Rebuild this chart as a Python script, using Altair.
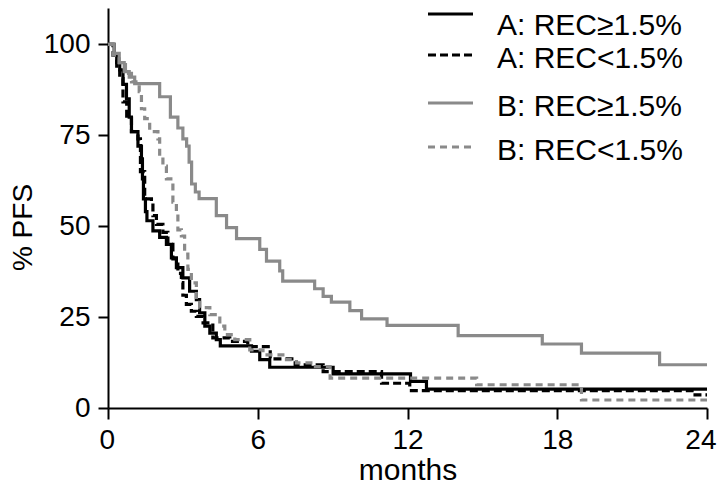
import altair as alt
import pandas as pd

# ---- data ----
series_names = ["A: REC≥1.5%", "A: REC<1.5%", "B: REC≥1.5%", "B: REC<1.5%"]

a_hi_t = [0, 0.25, 0.35, 0.47, 0.6, 0.74, 0.85, 0.94, 1.2, 1.34, 1.38, 1.42, 1.5, 1.56, 1.8, 2.07, 2.34, 2.54, 2.74, 3.0, 3.27, 3.54, 3.67, 3.88, 4.08, 4.34, 4.5, 5.75, 6.08, 6.48, 9.02, 12.12, 12.76, 24.0]
a_hi_v = [100, 97, 95, 93, 89, 85, 80, 76, 72, 68.5, 63, 57.5, 54, 51.5, 48.7, 46.9, 45, 41.3, 38.6, 35.8, 32.1, 29.8, 26.2, 22.5, 20.6, 18.8, 17.1, 15.6, 13.3, 11.2, 9.4, 7.3, 5.2, 5.2]

a_lo_t = [0, 0.2, 0.35, 0.47, 0.6, 0.75, 0.94, 1.2, 1.3, 1.47, 1.74, 1.8, 1.94, 2.2, 2.4, 2.6, 2.8, 2.94, 3.0, 3.14, 3.34, 3.54, 3.81, 4.2, 4.88, 5.6, 6.5, 7.5, 8.62, 10.96, 12.09, 23.4, 24.0]
a_lo_v = [100, 97, 93, 90.6, 84.2, 79.6, 76, 74, 65, 57.5, 56.6, 52.9, 50.5, 48.3, 45, 41, 37, 34.5, 31, 28.5, 26.6, 25.2, 23.4, 19.3, 18.3, 16.9, 13.5, 11.9, 10.0, 6.8, 4.8, 3.6, 3.6]

b_hi_t = [0, 0.25, 0.45, 0.65, 0.85, 1.07, 2.07, 2.5, 2.8, 3.0, 3.15, 3.25, 3.35, 3.5, 3.65, 4.34, 4.75, 5.15, 6.08, 6.35, 6.88, 7.0, 8.28, 8.62, 8.95, 9.69, 10.16, 11.18, 14.03, 17.4, 18.97, 22.1, 24.0]
b_hi_v = [100, 97.5, 95, 92.5, 91, 89.2, 85.6, 80, 77, 74, 72, 67.6, 61.6, 59.4, 57.6, 52.9, 49.6, 46.6, 43.6, 40.4, 37.7, 34.9, 32.8, 30.7, 29.1, 26.8, 24.5, 22.7, 19.9, 17.6, 15.1, 11.9, 11.9]

b_lo_t = [0, 0.2, 0.45, 0.7, 0.94, 1.25, 1.34, 1.47, 1.67, 2.0, 2.07, 2.2, 2.34, 2.6, 2.74, 2.8, 2.94, 3.07, 3.2, 3.34, 3.54, 3.67, 4.08, 4.48, 4.68, 5.08, 5.68, 6.21, 7.15, 7.55, 8.22, 8.9, 14.77, 18.97, 24.0]
b_lo_v = [100, 97, 95, 92, 89.7, 87, 82.3, 79.6, 76, 74, 69, 66.5, 63, 56.6, 53.8, 49, 47.3, 42.3, 38.1, 34.4, 29.8, 27.6, 25.7, 22.5, 20.2, 18.8, 16, 14.6, 13.3, 12.4, 11.4, 8.2, 6.4, 2.2, 2.2]

x_ticks = [0, 6, 12, 18, 24]
y_ticks = [0, 25, 50, 75, 100]

# ---- build table ----
rows = []
for name, ts, vs in zip(series_names, [a_hi_t, a_lo_t, b_hi_t, b_lo_t], [a_hi_v, a_lo_v, b_hi_v, b_lo_v]):
    for t, v in zip(ts, vs):
        rows.append({"series": name, "t": t, "v": v})
df = pd.DataFrame(rows)

colors = ["#000000", "#000000", "#8a8a8a", "#8a8a8a"]
dashes = [[1, 0], [8, 4], [1, 0], [7, 5]]
FONT = "Liberation Sans, Arial, sans-serif"

color_scale = alt.Scale(domain=series_names, range=colors)
dash_scale = alt.Scale(domain=series_names, range=dashes)

lines = alt.Chart(df).mark_line(interpolate="step-after", strokeWidth=3.2, clip=True).encode(
    x=alt.X("t:Q", scale=alt.Scale(domain=[0, 24], nice=False),
            axis=alt.Axis(values=x_ticks, title="months", grid=False, labelFontSize=28,
                          titleFontSize=30, titleFontWeight="normal", labelPadding=7,
                          titleBaseline="alphabetic", titleY=71, tickSize=11, tickWidth=2,
                          domainWidth=2, labelFont=FONT, titleFont=FONT, labelColor="#000",
                          titleColor="#000", domainColor="#000", tickColor="#000",
                          labelFlush=True, labelFlushOffset=9)),
    y=alt.Y("v:Q", scale=alt.Scale(domain=[0, 110], nice=False),
            axis=alt.Axis(values=y_ticks, title="% PFS", grid=False, labelFontSize=28,
                          titleFontSize=28, titleFontWeight="normal", labelPadding=8,
                          titlePadding=6, tickSize=10, tickWidth=2, domainWidth=2,
                          labelFont=FONT, titleFont=FONT, labelColor="#000", titleColor="#000",
                          domainColor="#000", tickColor="#000", titleY=219, labelFlush=False)),
    color=alt.Color("series:N", scale=color_scale, legend=None),
    strokeDash=alt.StrokeDash("series:N", scale=dash_scale, legend=None),
    detail="series:N",
)

# ---- manual legend ----
leg_lines_y = [6, 47, 95, 139]
leg_text_y = [27, 60, 108, 152]
leg = pd.DataFrame({"series": series_names, "ly": leg_lines_y, "ty": leg_text_y})

leg_lines = alt.Chart(leg).mark_rule(strokeWidth=3.2).encode(
    x=alt.value(320), x2=alt.value(365),
    y=alt.Y("ly:Q", scale=None),
    color=alt.Color("series:N", scale=color_scale, legend=None),
    strokeDash=alt.StrokeDash("series:N", scale=dash_scale, legend=None),
)
leg_text = alt.Chart(leg).mark_text(align="left", baseline="alphabetic", fontSize=30, font=FONT,
                                    color="#000").encode(
    x=alt.value(389),
    y=alt.Y("ty:Q", scale=None),
    text="series:N",
)

chart = alt.layer(lines, leg_lines, leg_text).properties(
    width=599, height=400,
    autosize=alt.AutoSizeParams(type="none"),
    padding={"left": 100, "top": 0, "right": 10, "bottom": 78},
).configure_view(stroke=None)

chart.save("out.html", embed_options={"renderer": "svg", "actions": False})
